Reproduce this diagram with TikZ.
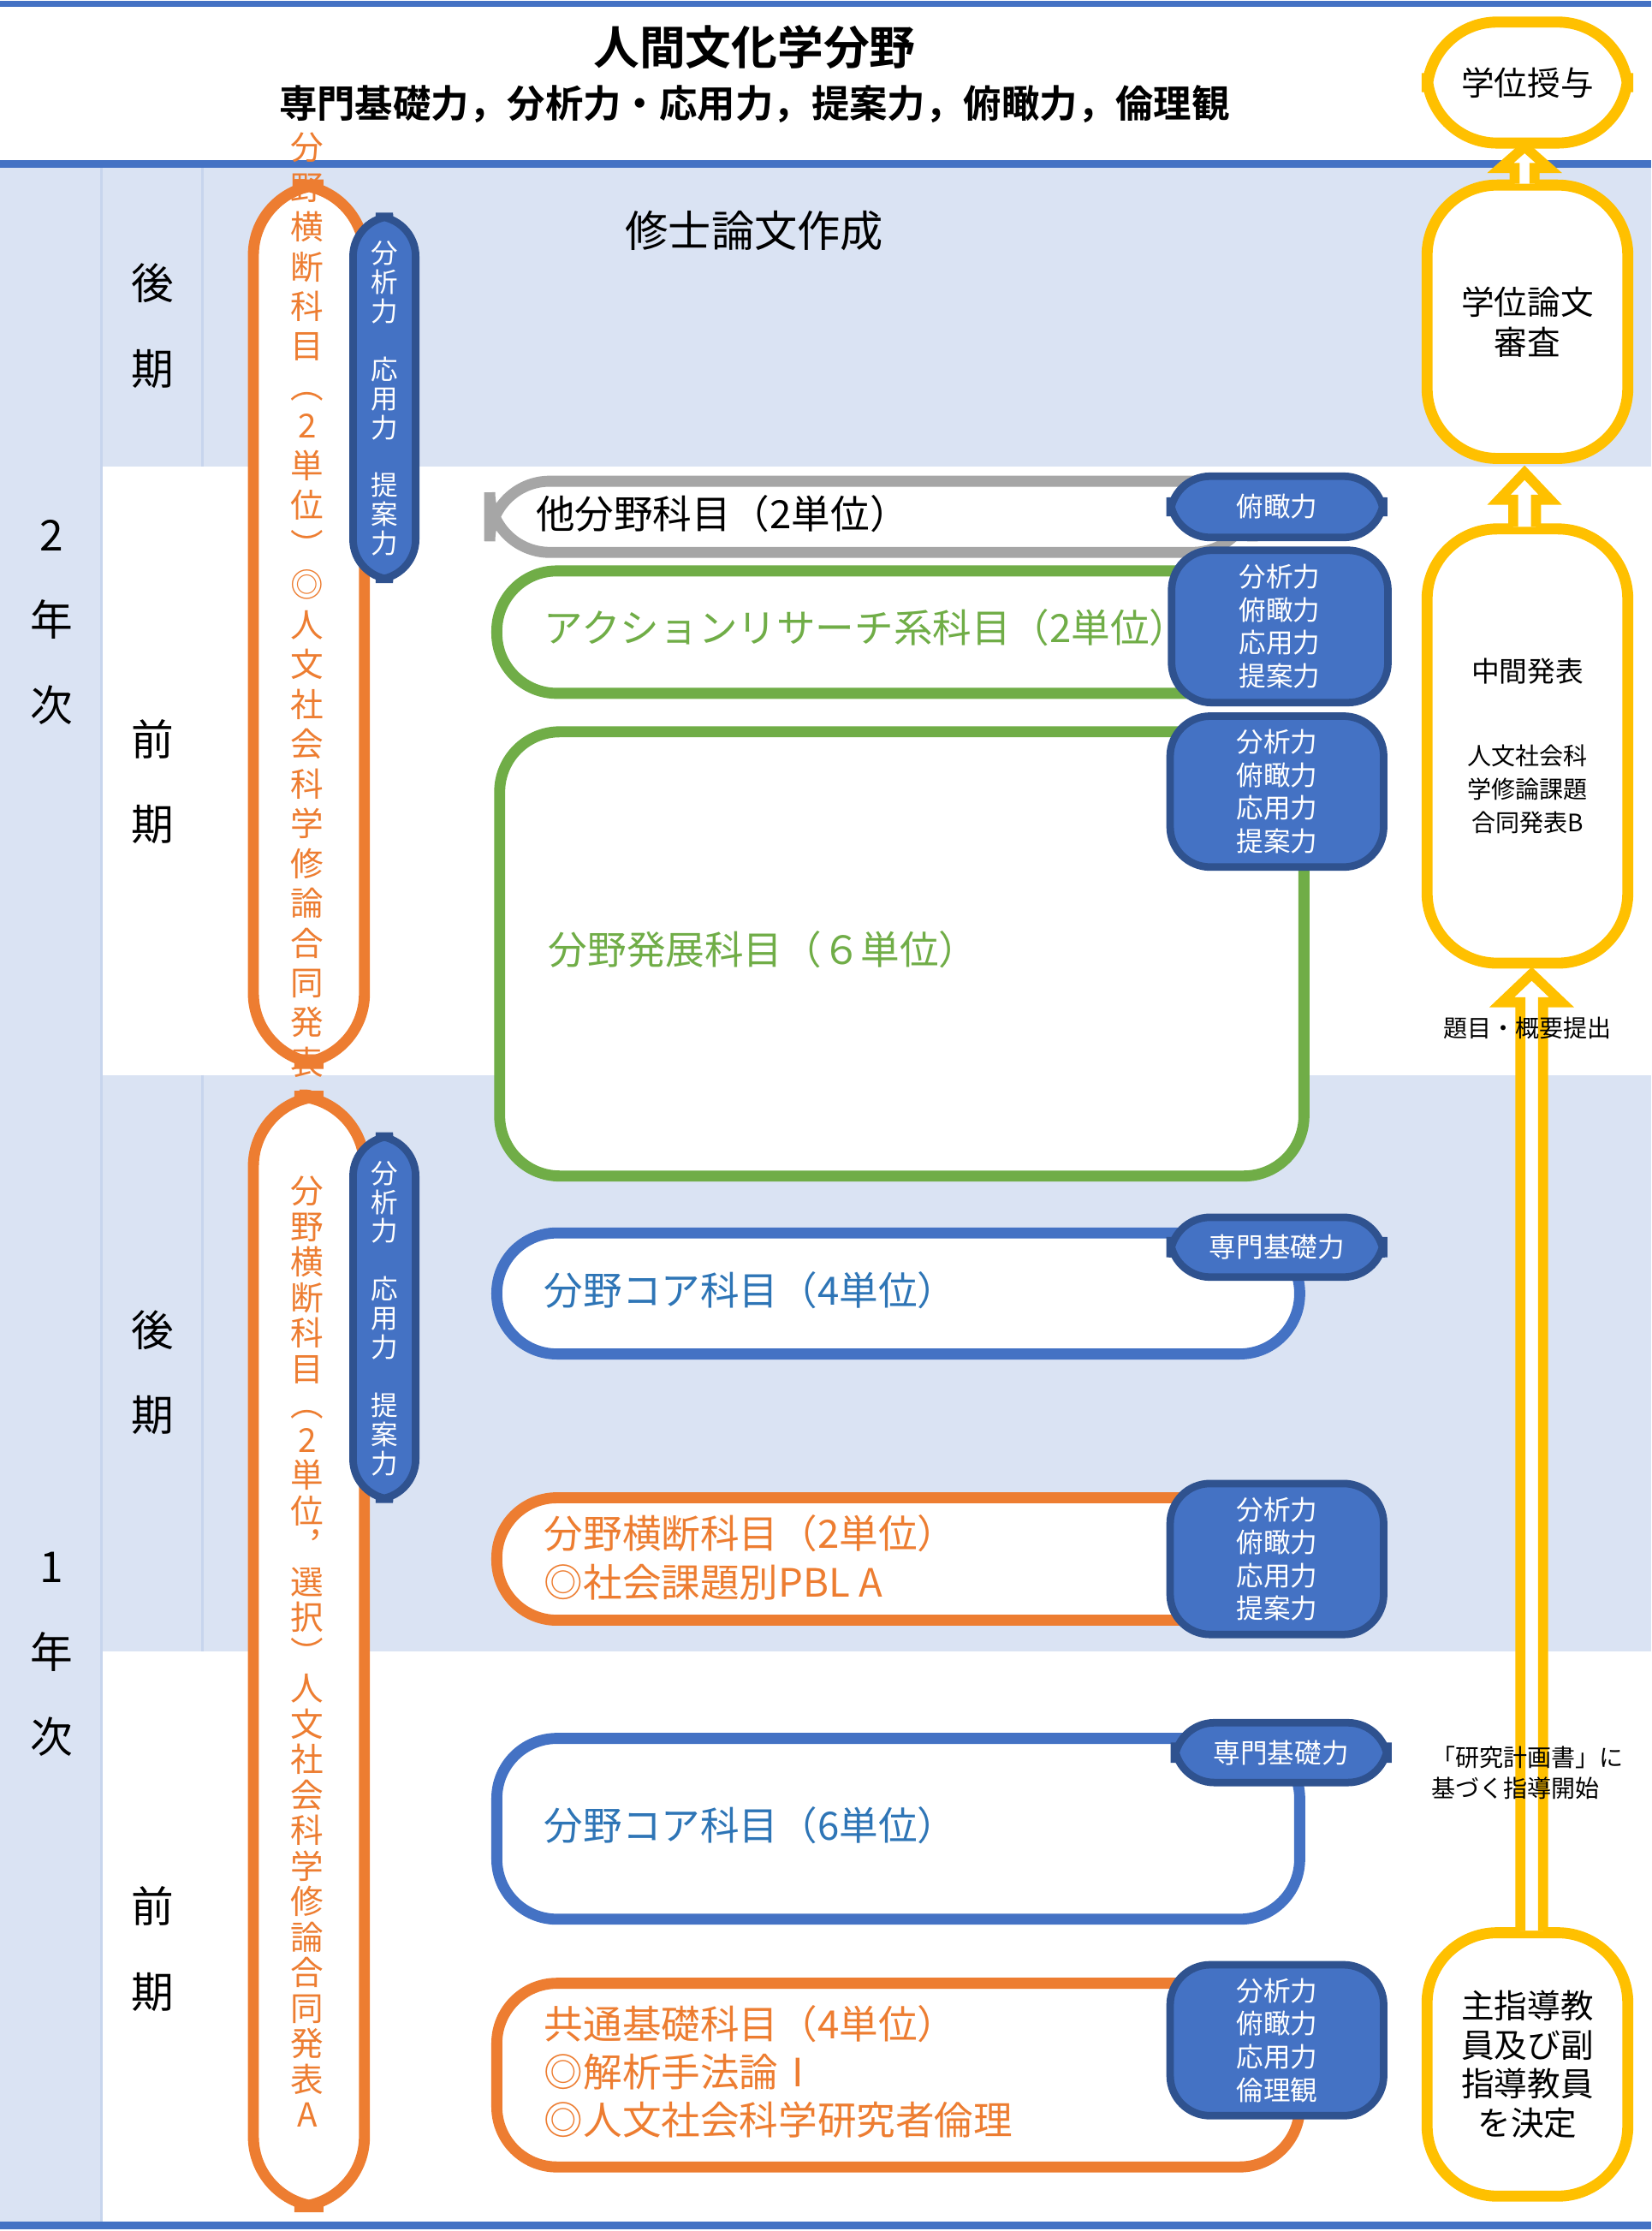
\documentclass[tikz,border=0pt]{standalone}
\usepackage{fontspec}
\setmainfont{Noto Sans CJK JP}
\newfontfamily\jpbold{Noto Sans CJK JP Bold}
\usetikzlibrary{positioning}
\definecolor{bandblue}{HTML}{DAE3F3}
\definecolor{lineblue}{HTML}{4472C4}
\definecolor{tagedge}{HTML}{2F528F}
\definecolor{corange}{HTML}{ED7D31}
\definecolor{cgreen}{HTML}{70AD47}
\definecolor{ctext}{HTML}{2E75B6}
\definecolor{cyellow}{HTML}{FFC000}
\tikzset{
  course/.style={draw, line width=2.2pt, rounded corners=12, fill=white},
  tag/.style={draw=tagedge, fill=lineblue, line width=1.5pt, rounded corners=8, text=white,
    align=center, font=\fontsize{5.4}{6.6}\selectfont, inner sep=0pt},
  goal/.style={draw=cyellow, fill=white, line width=2.2pt, rounded corners=14, align=center},
  vtxt/.style={align=center, inner sep=0pt},
  big/.style={font=\fontsize{7.8}{9.6}\selectfont},
  term/.style={font=\fontsize{8.5}{17}\selectfont, align=center},
  hollow/.style={draw=cyellow, fill=white, line width=2pt, line join=miter}
}
\begin{document}
\begin{tikzpicture}[x=0.1mm,y=-0.1mm]
\useasboundingbox (0,0) rectangle (1160,1567);
% background bands
\fill[bandblue] (0,115) rectangle (1160,328);
\fill[bandblue] (0,755) rectangle (1160,1160);
\fill[bandblue] (0,328) rectangle (71,755);
\fill[bandblue] (0,1160) rectangle (71,1563);
\draw[lineblue!30, line width=0.5pt] (71,115) -- (71,1563);
\draw[lineblue!30, line width=0.5pt] (142,115) -- (142,328) (142,755) -- (142,1160);
\draw[lineblue, line width=1.2pt] (0,3) -- (1160,3);
\draw[lineblue, line width=1.5pt] (0,115) -- (1160,115);
\draw[lineblue, line width=1.5pt] (0,1563) -- (1160,1563);

% title
\node[font=\jpbold\fontsize{9.2}{11}\selectfont] (title) at (530,33) {人間文化学分野};
\node[font=\jpbold\fontsize{7.6}{9}\selectfont] (subtitle) at (530,73) {専門基礎力，分析力・応用力，提案力，俯瞰力，倫理観};

% years and terms
\node[term] (y2) at (36,437) {2\\年\\次};
\node[term] (y1) at (36,1162) {1\\年\\次};
\node[term] (t4) at (107,229) {後\\期};
\node[term] (t3) at (107,549) {前\\期};
\node[term] (t2) at (107,964) {後\\期};
\node[term] (t1) at (107,1369) {前\\期};

\node[font=\fontsize{8.6}{10}\selectfont] (thesis) at (530,162) {修士論文作成};

% cross-field vertical boxes
\draw[corange, line width=2.2pt, rounded corners=14, fill=white] (178,130) rectangle (256,747);
\node[vtxt, text=corange, font=\fontsize{6.6}{7.95}\selectfont] (cross2) at (216,438)
  {分\\野\\横\\断\\科\\目\\︵\\2\\単\\位\\︶\\◎\\人\\文\\社\\会\\科\\学\\修\\論\\合\\同\\発\\表\\B};
\draw[corange, line width=2.2pt, rounded corners=14, fill=white] (178,770) rectangle (256,1550);
\node[vtxt, text=corange, font=\fontsize{6.6}{7.1}\selectfont] (cross1) at (216,1160)
  {分\\野\\横\\断\\科\\目\\︵\\2\\単\\位\\︐\\選\\択\\︶\\人\\文\\社\\会\\科\\学\\修\\論\\合\\同\\発\\表\\A};
\draw[tagedge, fill=lineblue, line width=1.5pt, rounded corners=8] (248,152) rectangle (292,407);
\node[vtxt, text=white, font=\fontsize{5.4}{5.8}\selectfont] (skill2) at (270,280) {分\\析\\力\\ \\応\\用\\力\\ \\提\\案\\力};
\draw[tagedge, fill=lineblue, line width=1.5pt, rounded corners=8] (248,798) rectangle (292,1053);
\node[vtxt, text=white, font=\fontsize{5.4}{5.8}\selectfont] (skill1) at (270,926) {分\\析\\力\\ \\応\\用\\力\\ \\提\\案\\力};

% courses
\draw[course, draw=gray!70] (344,338) rectangle (880,388);
\node[big, anchor=west] (other) at (364,361) {他分野科目（2単位）};
\node[tag, minimum width=150*0.1mm, minimum height=43*0.1mm] (tagA) at (897,356) {俯瞰力};

\draw[course, draw=cgreen] (349,401) rectangle (880,487);
\node[big, anchor=west, text=cgreen] (action) at (370,441) {アクションリサーチ系科目（2単位）};
\node[tag, minimum width=152*0.1mm, minimum height=107*0.1mm] (tagB) at (899,440) {分析力\\俯瞰力\\応用力\\提案力};

\draw[course, draw=cgreen] (351,514) rectangle (916,826);
\node[big, anchor=west, text=cgreen] (advance) at (373,667) {分野発展科目（６単位）};
\node[tag, minimum width=150*0.1mm, minimum height=106*0.1mm] (tagC) at (897,556) {分析力\\俯瞰力\\応用力\\提案力};

\draw[course, draw=lineblue] (349,866) rectangle (913,951);
\node[big, anchor=west, text=ctext] (core4) at (370,906) {分野コア科目（4単位）};
\node[tag, minimum width=150*0.1mm, minimum height=42*0.1mm] (tagD) at (897,876) {専門基礎力};

\draw[course, draw=corange] (349,1052) rectangle (880,1138);
\node[big, anchor=west, text=corange, align=left] (pbl) at (370,1094) {分野横断科目（2単位）\\◎社会課題別PBL A};
\node[tag, minimum width=150*0.1mm, minimum height=106*0.1mm] (tagE) at (897,1095) {分析力\\俯瞰力\\応用力\\提案力};

\draw[course, draw=lineblue] (349,1221) rectangle (913,1348);
\node[big, anchor=west, text=ctext] (core6) at (370,1282) {分野コア科目（6単位）};
\node[tag, minimum width=150*0.1mm, minimum height=42*0.1mm] (tagF) at (900,1231) {専門基礎力};

\draw[course, draw=corange] (349,1393) rectangle (913,1522);
\node[big, anchor=west, text=corange, align=left] (common) at (370,1455) {共通基礎科目（4単位）\\◎解析手法論Ⅰ\\◎人文社会科学研究者倫理};
\node[tag, minimum width=150*0.1mm, minimum height=106*0.1mm] (tagG) at (897,1433) {分析力\\俯瞰力\\応用力\\倫理観};

% right column
\node[goal, minimum width=141*0.1mm, minimum height=85*0.1mm, font=\fontsize{6.6}{8}\selectfont] (degree) at (1073,58) {学位授与};
\node[goal, minimum width=141*0.1mm, minimum height=192*0.1mm, font=\fontsize{6.6}{8}\selectfont] (review) at (1073,226) {学位論文\\審査};
\node[goal, minimum width=141*0.1mm, minimum height=305*0.1mm, font=\fontsize{5.6}{6.6}\selectfont] (interim) at (1073,524)
  {中間発表\\[10pt]{\fontsize{4.8}{6}\selectfont 人文社会科}\\{\fontsize{4.8}{6}\selectfont 学修論課題}\\{\fontsize{4.8}{6}\selectfont 合同発表B}};
\node[goal, minimum width=141*0.1mm, minimum height=185*0.1mm, font=\fontsize{6.6}{7.8}\selectfont] (advisor) at (1073,1450) {主指導教\\員及び副\\指導教員\\を決定};

% hollow arrows
\draw[hollow] (1064,129) -- (1064,118) -- (1054,118) -- (1071,103) -- (1088,118) -- (1078,118) -- (1078,129);
\draw[hollow] (1063,370) -- (1063,351) -- (1053,351) -- (1071,332) -- (1089,351) -- (1079,351) -- (1079,370);
\draw[hollow] (1068,1356) -- (1068,704) -- (1055,704) -- (1076,684) -- (1097,704) -- (1084,704) -- (1084,1356);

\node[font=\fontsize{4.8}{6}\selectfont] (topic) at (1073,722) {題目・概要提出};
\node[font=\fontsize{4.8}{6.2}\selectfont, align=left] (plan) at (1073,1245) {「研究計画書」に\\基づく指導開始};
\end{tikzpicture}
\end{document}
